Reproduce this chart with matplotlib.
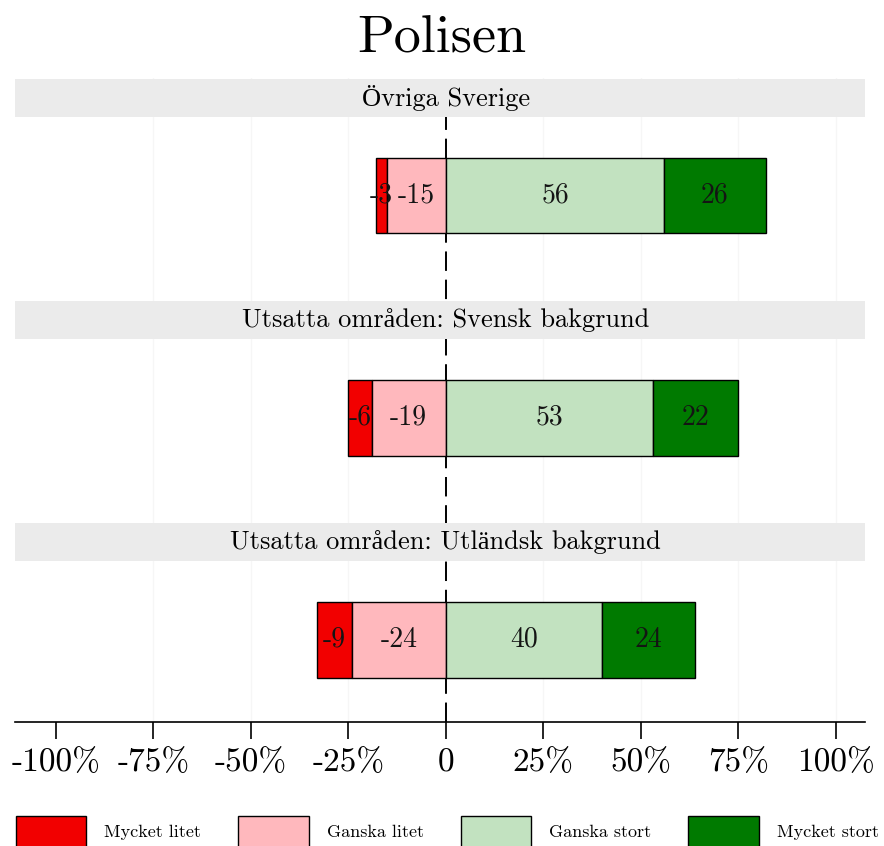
import matplotlib
matplotlib.use("Agg")
import matplotlib.pyplot as plt
import numpy as np

# ----------------------------------------
# DATA
# ----------------------------------------
groups = [
    "Övriga Sverige",
    "Utsatta områden: Svensk bakgrund",
    "Utsatta områden: Utländsk bakgrund",
]
mycket_litet = [3, 6, 9]
ganska_litet = [15, 19, 24]
ganska_stort = [56, 53, 40]
mycket_stort = [26, 22, 24]

categories = ["Mycket litet", "Ganska litet", "Ganska stort", "Mycket stort"]
colors = ["#f20000", "#ffb8bd", "#c2e2c0", "#007a00"]

tick_values = [-100, -75, -50, -25, 0, 25, 50, 75, 100]
tick_labels = ["-100%", "-75%", "-50%", "-25%", "0", "25%", "50%", "75%", "100%"]

# ----------------------------------------
# STYLE
# ----------------------------------------
plt.rcParams["font.family"] = ["cmr10", "Liberation Serif"]
plt.rcParams["axes.unicode_minus"] = False
plt.rcParams["mathtext.fontset"] = "cm"

fig = plt.figure(figsize=(8.84, 8.46), dpi=100)
ax = fig.add_axes([15 / 884, 1 - 722 / 846, 850 / 884, (722 - 78) / 846])

y = np.arange(len(groups))
bar_h = 0.34

ml = -np.array(mycket_litet)
gl = -np.array(ganska_litet)
gs = np.array(ganska_stort)
ms = np.array(mycket_stort)

# ----------------------------------------
# BARS
# ----------------------------------------
edge = dict(edgecolor="black", linewidth=1.0, height=bar_h, zorder=3)
b1 = ax.barh(y, ml, left=gl, color=colors[0], label=categories[0], **edge)
b2 = ax.barh(y, gl, color=colors[1], label=categories[1], **edge)
b3 = ax.barh(y, gs, color=colors[2], label=categories[2], **edge)
b4 = ax.barh(y, ms, left=gs, color=colors[3], label=categories[3], **edge)

for i in range(len(groups)):
    centers = [gl[i] + ml[i] / 2, gl[i] / 2, gs[i] / 2, gs[i] + ms[i] / 2]
    vals = [ml[i], gl[i], gs[i], ms[i]]
    for c, v in zip(centers, vals):
        ax.text(c, y[i], f"{v}", ha="center", va="center",
                fontsize=20, color="#141414", zorder=4)

# ----------------------------------------
# STRIPS + REFERENCE LINE
# ----------------------------------------
for i, g in enumerate(groups):
    ax.axhspan(y[i] - 0.525, y[i] - 0.355, color="#ebebeb", zorder=2, lw=0)
    ax.text(0, y[i] - 0.44, g, ha="center", va="center", fontsize=19, zorder=4)

ax.axvline(0, color="black", lw=1.4, dashes=(10, 4.5), zorder=1)
for t in [-75, -50, -25, 25, 50, 75, 100]:
    ax.axvline(t, color="#f6f6f6", lw=1.0, zorder=0)

ax.set_xlim(-110.5, 107.5)
ax.set_ylim(2.37, -0.53)

ax.set_xticks(tick_values)
ax.set_xticklabels(tick_labels, fontsize=24)
ax.tick_params(axis="x", length=12, width=1.2, pad=7)
ax.set_yticks([])
for s in ["left", "right", "top"]:
    ax.spines[s].set_visible(False)
ax.spines["bottom"].set_linewidth(1.2)

fig.text(0.5, 1 - 39 / 846, "Polisen", ha="center", va="center", fontsize=39)

fig.legend(handles=[b1, b2, b3, b4], labels=categories, loc="upper center",
           bbox_to_anchor=(0.506, 1 - 807 / 846), ncol=4, frameon=False,
           fontsize=13, borderpad=0, handlelength=3.9, handleheight=2.3,
           handletextpad=1.0, columnspacing=2.05)

fig.savefig("out.png", dpi=100)
